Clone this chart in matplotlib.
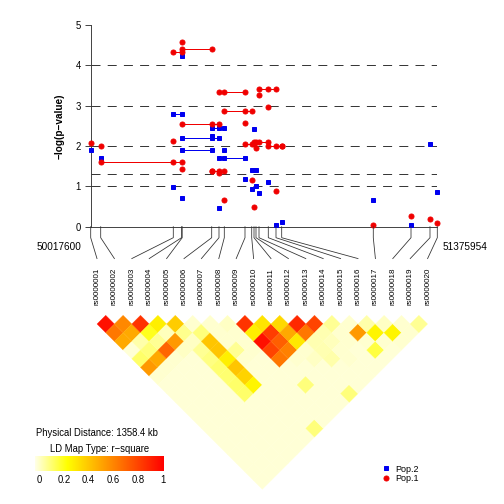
import numpy as np
import matplotlib
matplotlib.use("Agg")
import matplotlib.pyplot as plt
from matplotlib.collections import PolyCollection
from matplotlib.colors import LinearSegmentedColormap
from matplotlib.lines import Line2D
from matplotlib.transforms import IdentityTransform

plt.rcParams['font.family'] = ['Liberation Sans', 'DejaVu Sans']

snp_names = ['rs0000001', 'rs0000002', 'rs0000003', 'rs0000004', 'rs0000005',
             'rs0000006', 'rs0000007', 'rs0000008', 'rs0000009', 'rs0000010',
             'rs0000011', 'rs0000012', 'rs0000013', 'rs0000014', 'rs0000015',
             'rs0000016', 'rs0000017', 'rs0000018', 'rs0000019', 'rs0000020']
snp_pos = [50017600, 50056800, 50341300, 50373500, 50376200, 50491800,
           50520400, 50541200, 50622300, 50648600, 50657600, 50665400,
           50677200, 50713600, 50743800, 50766100, 51125100, 51272900,
           51347300, 51375954]

# single SNP -log10(p)
pop1_logp = [2.08, 2.00, 2.13, 4.59, 1.42, 1.37, 1.32, 0.66, 2.58, 1.17,
             0.48, 1.95, 3.27, 2.96, 0.89, 1.99, 0.03, 0.27, 0.19, 0.08]
pop2_logp = [1.90, 1.71, 0.99, 4.22, 0.70, 2.25, 0.47, 1.89, 1.18, 0.93,
             2.42, 1.01, 0.83, 1.10, 0.03, 0.11, 0.65, 0.03, 2.05, 0.85]

# haplotype windows (1-based first/last SNP) and -log10(p)
pop1_hap_start = [2, 3, 5, 5, 6, 7, 8, 9, 11, 13, 14]
pop1_hap_end = [4, 4, 6, 7, 8, 9, 10, 11, 14, 15, 16]
pop1_hap_logp = [1.61, 4.32, 4.40, 2.54, 1.37, 3.33, 2.88, 2.05, 2.11, 3.41, 1.99]
pop2_hap_start = [3, 5, 5, 6, 7, 10]
pop2_hap_end = [4, 6, 7, 8, 9, 12]
pop2_hap_logp = [2.79, 1.89, 2.19, 2.44, 1.70, 1.41]

sig_lines = [1, -np.log10(0.05), 2, 3, 4]

# LD (r-square), pairs not listed are near zero
ld_i = [1, 2, 3, 4, 5, 6, 7, 8, 9, 10, 11, 12, 13, 14, 15, 16, 17, 18, 19,
        1, 2, 3, 4, 5, 6, 7, 8, 9, 10, 11, 12, 13, 14, 15, 16, 17, 18,
        1, 2, 3, 4, 5, 6, 7, 8, 9, 10, 11, 12, 13, 14, 15, 16, 17,
        1, 2, 3, 4, 5, 6, 7, 8, 9, 10, 11, 12, 13, 14, 15, 16,
        1, 2, 3, 4, 5, 6, 7, 8, 9, 10, 11, 12, 13, 14, 15,
        1, 2, 5, 6, 1, 5, 6, 5, 6, 9, 5, 11, 7]
ld_j = [2, 3, 4, 5, 6, 7, 8, 9, 10, 11, 12, 13, 14, 15, 16, 17, 18, 19, 20,
        3, 4, 5, 6, 7, 8, 9, 10, 11, 12, 13, 14, 15, 16, 17, 18, 19, 20,
        4, 5, 6, 7, 8, 9, 10, 11, 12, 13, 14, 15, 16, 17, 18, 19, 20,
        5, 6, 7, 8, 9, 10, 11, 12, 13, 14, 15, 16, 17, 18, 19, 20,
        6, 7, 8, 9, 10, 11, 12, 13, 14, 15, 16, 17, 18, 19, 20,
        7, 8, 11, 12, 8, 12, 13, 13, 14, 17, 14, 20, 20]
ld_r2 = [0.95, 0.60, 0.85, 0.30, 0.40, 0.03, 0.03, 0.04, 0.85, 0.33, 0.36, 0.88, 0.80, 0.09, 0.03, 0.07, 0.04, 0.03, 0.09,
         0.65, 0.50, 0.22, 0.05, 0.10, 0.12, 0.03, 0.03, 0.30, 0.82, 0.50, 0.65, 0.06, 0.03, 0.55, 0.28, 0.28, 0.03,
         0.50, 0.07, 0.09, 0.55, 0.04, 0.42, 0.03, 0.03, 0.95, 0.72, 0.32, 0.06, 0.05, 0.03, 0.03, 0.03, 0.03,
         0.02, 0.12, 0.70, 0.04, 0.09, 0.42, 0.09, 0.03, 0.80, 0.62, 0.03, 0.06, 0.03, 0.02, 0.18, 0.02,
         0.14, 0.50, 0.03, 0.02, 0.11, 0.30, 0.03, 0.02, 0.65, 0.03, 0.04, 0.07, 0.03, 0.02, 0.02,
         0.55, 0.03, 0.13, 0.42, 0.03, 0.13, 0.38, 0.14, 0.28, 0.12, 0.14, 0.12, 0.12]
ld_other = 0.02

col1 = '#F00000'
col2 = '#0000F0'
axis_col = '#333333'

fig = plt.figure(figsize=(7, 7), dpi=72)

# LD heatmap axes: one unit = spacing between SNP labels
step = 17.4
x_first = 97.0
top_px = 315.3
ax2 = fig.add_axes([0, 0, 1, 1])
ax2.set_xlim(-(x_first - step) / step, (504 - x_first + step) / step)
ax2.set_ylim(-(504 - top_px) / step, top_px / step)
ax2.axis('off')

n = len(snp_names)
r2 = np.full((n, n), ld_other)
for a, b, v in zip(ld_i, ld_j, ld_r2):
    r2[a - 1, b - 1] = v

ld_cmap = LinearSegmentedColormap.from_list(
    'ld', [(0, '#FFFFE8'), (0.25, '#FFFF00'), (1, '#FF0000')])

verts, vals = [], []
for i in range(n):
    for j in range(i + 1, n):
        cx = (i + j) / 2 + 1
        cy = -(j - i) / 2
        verts.append([(cx - 0.5, cy), (cx, cy + 0.5), (cx + 0.5, cy), (cx, cy - 0.5)])
        vals.append(r2[i, j])
pc = PolyCollection(verts, cmap=ld_cmap, norm=plt.Normalize(0, 1),
                    edgecolors='face', linewidths=0.3)
pc.set_array(np.array(vals))
ax2.add_collection(pc)

for k, name in enumerate(snp_names):
    ax2.text(k + 1, 2.72, name, rotation=90, ha='center', va='top', fontsize=8)

# association plot
ax1 = fig.add_axes([90.7 / 504, (504 - 226.7) / 504, (437.3 - 90.7) / 504, (226.7 - 25) / 504])
ax1.set_xlim(snp_pos[0], snp_pos[-1])
ax1.set_ylim(0, 5)
for s in ['top', 'right']:
    ax1.spines[s].set_visible(False)
for s in ['left', 'bottom']:
    ax1.spines[s].set_color(axis_col)
    ax1.spines[s].set_linewidth(0.9)
ax1.set_xticks([])
ax1.set_yticks(range(6))
ax1.tick_params(axis='y', length=6, width=0.9, color=axis_col, labelsize=9.5, pad=4)
ax1.set_ylabel('\u2212log(p\u2212value)', fontsize=10, fontweight='bold', labelpad=11)

for v in sig_lines:
    ax1.axhline(v, color='#222222', lw=0.9, ls=(0, (10, 8)), zorder=1)

pos = np.array(snp_pos)
for starts, ends, vals_h, logp, col, mk, ms in [
        (pop2_hap_start, pop2_hap_end, pop2_hap_logp, pop2_logp, col2, 's', 4.4),
        (pop1_hap_start, pop1_hap_end, pop1_hap_logp, pop1_logp, col1, 'o', 5)]:
    for a, b, v in zip(starts, ends, vals_h):
        xs = pos[a - 1:b]
        ax1.plot(xs, [v] * len(xs), color=col, lw=1, marker=mk, ms=ms,
                 mec=col, clip_on=False, zorder=3)
    ax1.plot(pos, logp, ls='none', marker=mk, ms=ms, color=col, mec=col,
             clip_on=False, zorder=3)

ax1.annotate(str(snp_pos[0]), xy=(snp_pos[0], 0), xytext=(-9, -20),
             textcoords='offset points', ha='right', va='center', fontsize=10)
ax1.annotate(str(snp_pos[-1]), xy=(snp_pos[-1], 0), xytext=(5.5, -20),
             textcoords='offset points', ha='left', va='center', fontsize=10)

# connectors from physical position to label
scale = fig.dpi / 72
for k in range(n):
    x0, y0 = ax1.transData.transform((snp_pos[k], 0))
    x2, y2 = ax2.transData.transform((k + 1, 3.26))
    fig.add_artist(Line2D([x0, x0, x2], [y0, y0 - 11 * scale, y2],
                          transform=IdentityTransform(), color=axis_col, lw=0.8))

# LD legend
dist_kb = (snp_pos[-1] - snp_pos[0]) / 1000
fig.text(97 / 504, 1 - 433 / 504, 'Physical Distance: %.1f kb' % dist_kb,
         ha='center', va='center', fontsize=9.5)
fig.text(99.5 / 504, 1 - 449 / 504, 'LD Map Type: r\u2212square',
         ha='center', va='center', fontsize=9.5)

cax = fig.add_axes([35 / 504, (504 - 471) / 504, (164 - 35) / 504, 15 / 504])
grad = np.linspace(0, 1, 256)[None, :]
cax.imshow(grad, aspect='auto', cmap=ld_cmap, extent=[-0.032, 1.008, 0, 1])
cax.set_xlim(-0.032, 1.008)
cax.set_yticks([])
cax.set_xticks([0, 0.2, 0.4, 0.6, 0.8, 1])
cax.set_xticklabels(['0', '0.2', '0.4', '0.6', '0.8', '1'])
cax.tick_params(axis='x', length=0, labelsize=9.5, pad=4)
for s in cax.spines.values():
    s.set_visible(False)

handles = [Line2D([], [], ls='none', marker='s', ms=4.4, color=col2),
           Line2D([], [], ls='none', marker='o', ms=5, color=col1)]
fig.legend(handles, ['Pop.2', 'Pop.1'], loc='upper left',
           bbox_to_anchor=(377 / 504, 1 - 460 / 504), frameon=False,
           fontsize=9, handlelength=1, handletextpad=0.5, labelspacing=0.05,
           borderpad=0)

fig.savefig('out.png', dpi=72)
